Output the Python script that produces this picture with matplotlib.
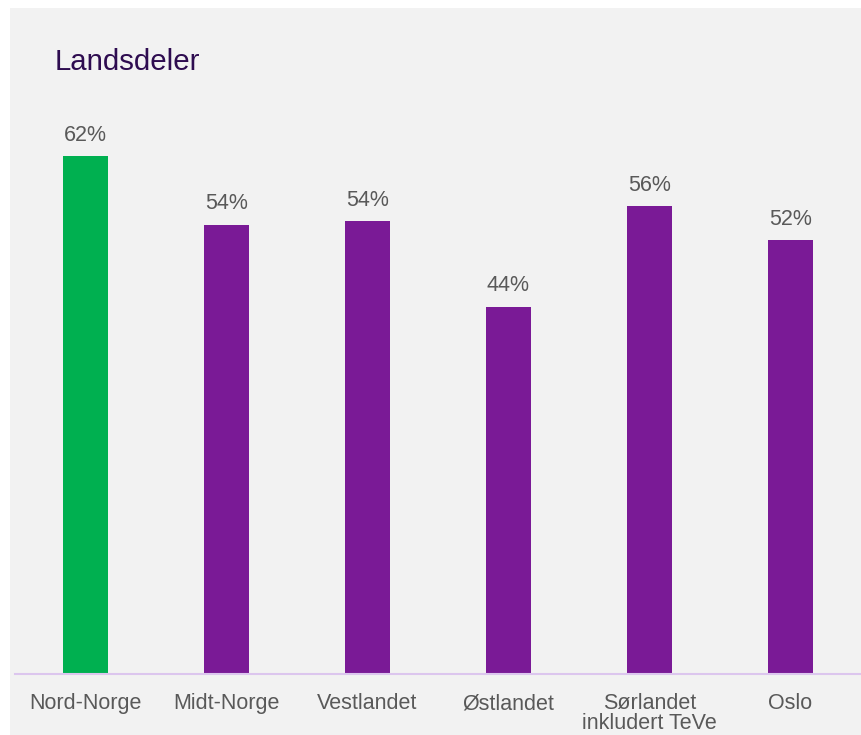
import matplotlib
matplotlib.use("Agg")
import matplotlib.pyplot as plt
from matplotlib.patches import Rectangle

categories = ["Nord-Norge", "Midt-Norge", "Vestlandet", "Østlandet", "Sørlandet\ninkludert TeVe", "Oslo"]
values = [62, 53.8, 54.2, 44, 56, 52]
labels = ["62%", "54%", "54%", "44%", "56%", "52%"]
colors = ["#00b050", "#7a1a96", "#7a1a96", "#7a1a96", "#7a1a96", "#7a1a96"]

W, H = 862, 735
fig = plt.figure(figsize=(W / 100, H / 100), dpi=100, facecolor="white")
plt.rcParams["font.family"] = ["Liberation Sans", "DejaVu Sans"]

bg = Rectangle((10 / W, 0), 1 - 10 / W, (H - 8) / H, transform=fig.transFigure,
               facecolor="#f2f2f2", edgecolor="none", zorder=-10)
fig.add_artist(bg)

ax = fig.add_axes([15 / W, (H - 674) / H, (861 - 15) / W, (674 - 100) / H])
ax.set_facecolor("none")
x = list(range(len(categories)))
bars = ax.bar(x, values, width=0.32, color=colors, zorder=2)
ax.set_xlim(-0.5, 5.5)
ax.set_ylim(0, (674 - 100) / 8.35)

for xi, v, lab in zip(x, values, labels):
    ax.annotate(lab, (xi, v), xytext=(0, 11), textcoords="offset points",
                ha="center", va="baseline", fontsize=15.5, color="#595959")

for s in ["top", "right", "left"]:
    ax.spines[s].set_visible(False)
ax.spines["bottom"].set_color("#dcc6ee")
ax.spines["bottom"].set_linewidth(1.5)
ax.set_yticks([])
ax.set_xticks(x)
ax.set_xticklabels(categories, fontsize=15.5, color="#595959", linespacing=0.92)
ax.tick_params(axis="x", length=0, pad=14)

fig.text(55 / W, 1 - 62 / H, "Landsdeler", fontsize=21.2, color="#2e0c50",
         ha="left", va="center")

fig.savefig("out.png", dpi=100, facecolor="white")
